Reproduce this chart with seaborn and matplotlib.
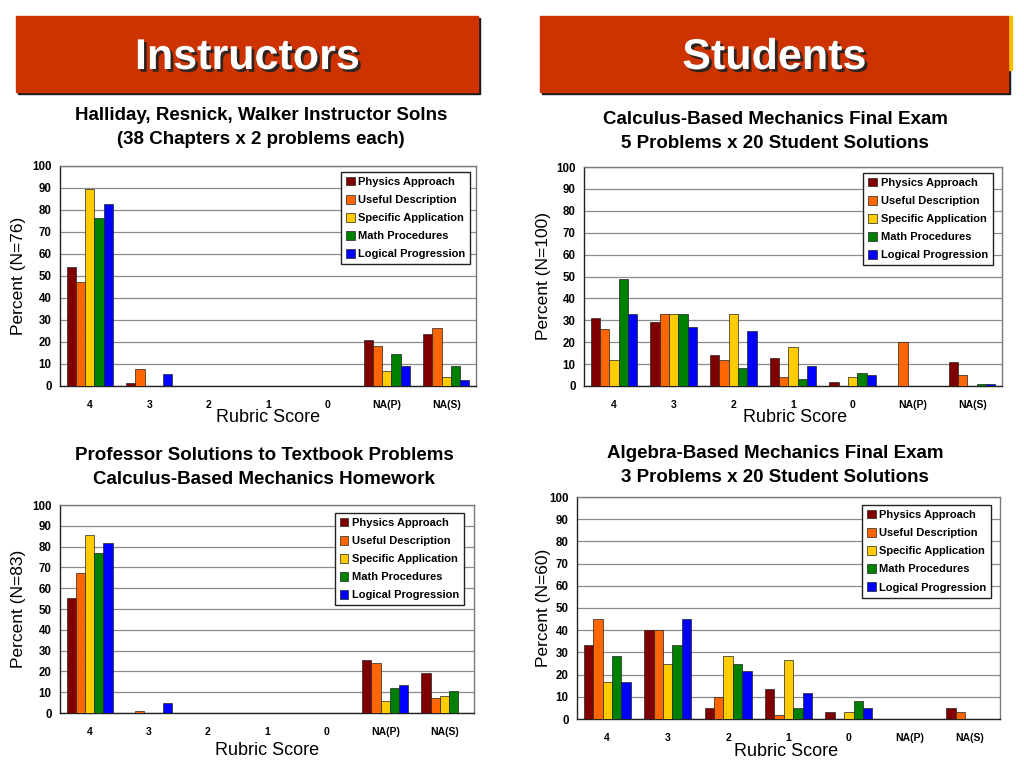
"""Rubric score distributions: instructor vs student solutions."""

import numpy as np
import pandas as pd
import matplotlib
matplotlib.use("Agg")
import matplotlib.pyplot as plt
import matplotlib.patheffects as pe
from matplotlib.patches import Rectangle, Patch
import seaborn as sns

categories = ["4", "3", "2", "1", "0", "NA(P)", "NA(S)"]
criteria = ["Physics Approach", "Useful Description", "Specific Application",
            "Math Procedures", "Logical Progression"]
colors = ["#800000", "#FF6600", "#FFCC00", "#008000", "#0000FF"]

# rows follow `criteria`, columns follow `categories`
hrw_pct = [
    [53.9, 1.3, 0, 0, 0, 21.1, 23.7],
    [47.4, 7.9, 0, 0, 0, 18.4, 26.3],
    [89.5, 0, 0, 0, 0, 6.6, 3.9],
    [76.3, 0, 0, 0, 0, 14.5, 9.2],
    [82.9, 5.3, 0, 0, 0, 9.2, 2.6],
]
calc_exam_pct = [
    [31, 29, 14, 13, 2, 0, 11],
    [26, 33, 12, 4, 0, 20, 5],
    [12, 33, 33, 18, 4, 0, 0],
    [49, 33, 8, 3, 6, 0, 1],
    [33, 27, 25, 9, 5, 0, 1],
]
prof_hw_pct = [
    [55.4, 0, 0, 0, 0, 25.3, 19.3],
    [67.5, 1.2, 0, 0, 0, 24.1, 7.2],
    [85.5, 0, 0, 0, 0, 6.0, 8.4],
    [77.1, 0, 0, 0, 0, 12.0, 10.8],
    [81.9, 4.8, 0, 0, 0, 13.3, 0],
]
alg_exam_pct = [
    [33.3, 40, 5, 13.3, 3.3, 0, 5],
    [45, 40, 10, 1.7, 0, 0, 3.3],
    [16.7, 25, 28.3, 26.7, 3.3, 0, 0],
    [28.3, 33.3, 25, 5, 8.3, 0, 0],
    [16.7, 45, 21.7, 11.7, 5, 0, 0],
]

sns.set_style("white")
plt.rcParams["font.family"] = ["Liberation Sans", "DejaVu Sans"]
plt.rcParams["text.color"] = "black"
plt.rcParams["axes.labelcolor"] = "black"
plt.rcParams["xtick.color"] = "black"
plt.rcParams["ytick.color"] = "black"

W, H = 1024, 768
fig = plt.figure(figsize=(W / 100, H / 100), dpi=100)


def px_box(left, top, right, bottom):
    return [left / W, 1 - bottom / H, (right - left) / W, (bottom - top) / H]


def header(left, top, right, bottom, text):
    # dark drop edge then the red banner
    fig.patches.append(Rectangle(((left + 2) / W, 1 - (bottom + 2) / H),
                                 (right - left) / W, (bottom - top) / H,
                                 transform=fig.transFigure, color="#1a1a1a", zorder=0))
    fig.patches.append(Rectangle((left / W, 1 - bottom / H),
                                 (right - left) / W, (bottom - top) / H,
                                 transform=fig.transFigure, color="#CC3300", zorder=1))
    fig.text((left + right) / 2 / W, 1 - ((top + bottom) / 2 + 4) / H, text,
             ha="center", va="center", color="white", fontsize=31, fontweight="bold",
             family=["Liberation Sans Narrow", "Liberation Sans", "DejaVu Sans"],
             path_effects=[pe.withSimplePatchShadow(offset=(2, -2), shadow_rgbFace="#222222", alpha=0.9)],
             zorder=3)


header(16, 16, 478, 92, "Instructors")
header(540, 16, 1008, 92, "Students")
fig.patches.append(Rectangle((1008 / W, 1 - 70 / H), 4 / W, 54 / H,
                             transform=fig.transFigure, color="#F2C200", zorder=0))


def panel(rect, values, n, title_lines, title_x, title_ys, ylab_x, xlab_pos, leg_anchor):
    ax = fig.add_axes(rect)
    df = pd.DataFrame(np.array(values).T, columns=criteria)
    df["score"] = categories
    long = df.melt(id_vars="score", var_name="criterion", value_name="pct")
    sns.barplot(data=long, x="score", y="pct", hue="criterion", order=categories,
                hue_order=criteria, palette=colors, width=0.78, saturation=1,
                edgecolor="#222222", linewidth=0.5, ax=ax, zorder=3, legend=False)
    for cont in ax.containers:
        for bar in cont:
            if bar.get_height() == 0:
                bar.set_visible(False)
    ax.set_ylim(0, 100)
    ax.set_xlim(-0.5, len(categories) - 0.5)
    ax.set_yticks(range(0, 101, 10))
    ax.yaxis.grid(True, color="#8c8c8c", linewidth=0.9, zorder=0)
    ax.set_axisbelow(True)
    ax.set_xticks(np.arange(-0.5, len(categories), 1), minor=True)
    ax.tick_params(axis="x", which="major", length=0, pad=10, labelsize=7.5)
    ax.tick_params(axis="x", which="minor", length=4, direction="out", color="#333333", width=0.8)
    ax.tick_params(axis="y", length=3, direction="out", labelsize=8.3, pad=3, color="#333333")
    for lab in ax.get_xticklabels() + ax.get_yticklabels():
        lab.set_fontweight("bold")
    for side in ["left", "bottom"]:
        ax.spines[side].set_color("#222222")
        ax.spines[side].set_linewidth(1.0)
    for side in ["top", "right"]:
        ax.spines[side].set_color("#7a7a7a")
        ax.spines[side].set_linewidth(1.0)
    ax.set_ylabel(f"Percent (N={n})", fontsize=12.5)
    ax.yaxis.label.set_va("center")
    ax.yaxis.set_label_coords(ylab_x, 0.5)
    ax.set_xlabel("Rubric Score", fontsize=13)
    ax.xaxis.label.set_va("center")
    ax.xaxis.set_label_coords(*xlab_pos)
    handles = [Patch(facecolor=c, edgecolor="#222222", linewidth=0.5, label=lab)
               for c, lab in zip(colors, criteria)]
    leg = ax.legend(handles=handles, loc="upper right", bbox_to_anchor=leg_anchor,
                    fancybox=False, frameon=True, edgecolor="#222222", framealpha=1,
                    prop={"weight": "bold", "size": 8}, handlelength=0.8,
                    handleheight=0.8, handletextpad=0.3, labelspacing=0.72,
                    borderpad=0.45, borderaxespad=0)
    leg.get_frame().set_linewidth(1.0)
    leg.set_zorder(5)
    for line, y in zip(title_lines, title_ys):
        fig.text(title_x / W, 1 - y / H, line, ha="center", va="center",
                 fontsize=13.5, fontweight="bold")
    return ax


panel(px_box(60, 166, 476, 386), hrw_pct, 76,
      ["Halliday, Resnick, Walker Instructor Solns", "(38 Chapters x 2 problems each)"],
      261, [115, 139], -0.10, (0.5, -0.145), (0.986, 0.973))
panel(px_box(584, 167, 1002, 386), calc_exam_pct, 100,
      ["Calculus-Based Mechanics Final Exam", "5 Problems x 20 Student Solutions"],
      775, [120, 144], -0.098, (0.505, -0.145), (0.978, 0.973))
panel(px_box(60, 505, 474, 713), prof_hw_pct, 83,
      ["Professor Solutions to Textbook Problems", "Calculus-Based Mechanics Homework"],
      264, [455, 479], -0.10, (0.5, -0.18), (0.976, 0.962))
panel(px_box(577, 497, 1000, 719), alg_exam_pct, 60,
      ["Algebra-Based Mechanics Final Exam", "3 Problems x 20 Student Solutions"],
      775, [453, 478], -0.08, (0.494, -0.145), (0.979, 0.964))

fig.savefig("out.png", dpi=100)
plt.close()
